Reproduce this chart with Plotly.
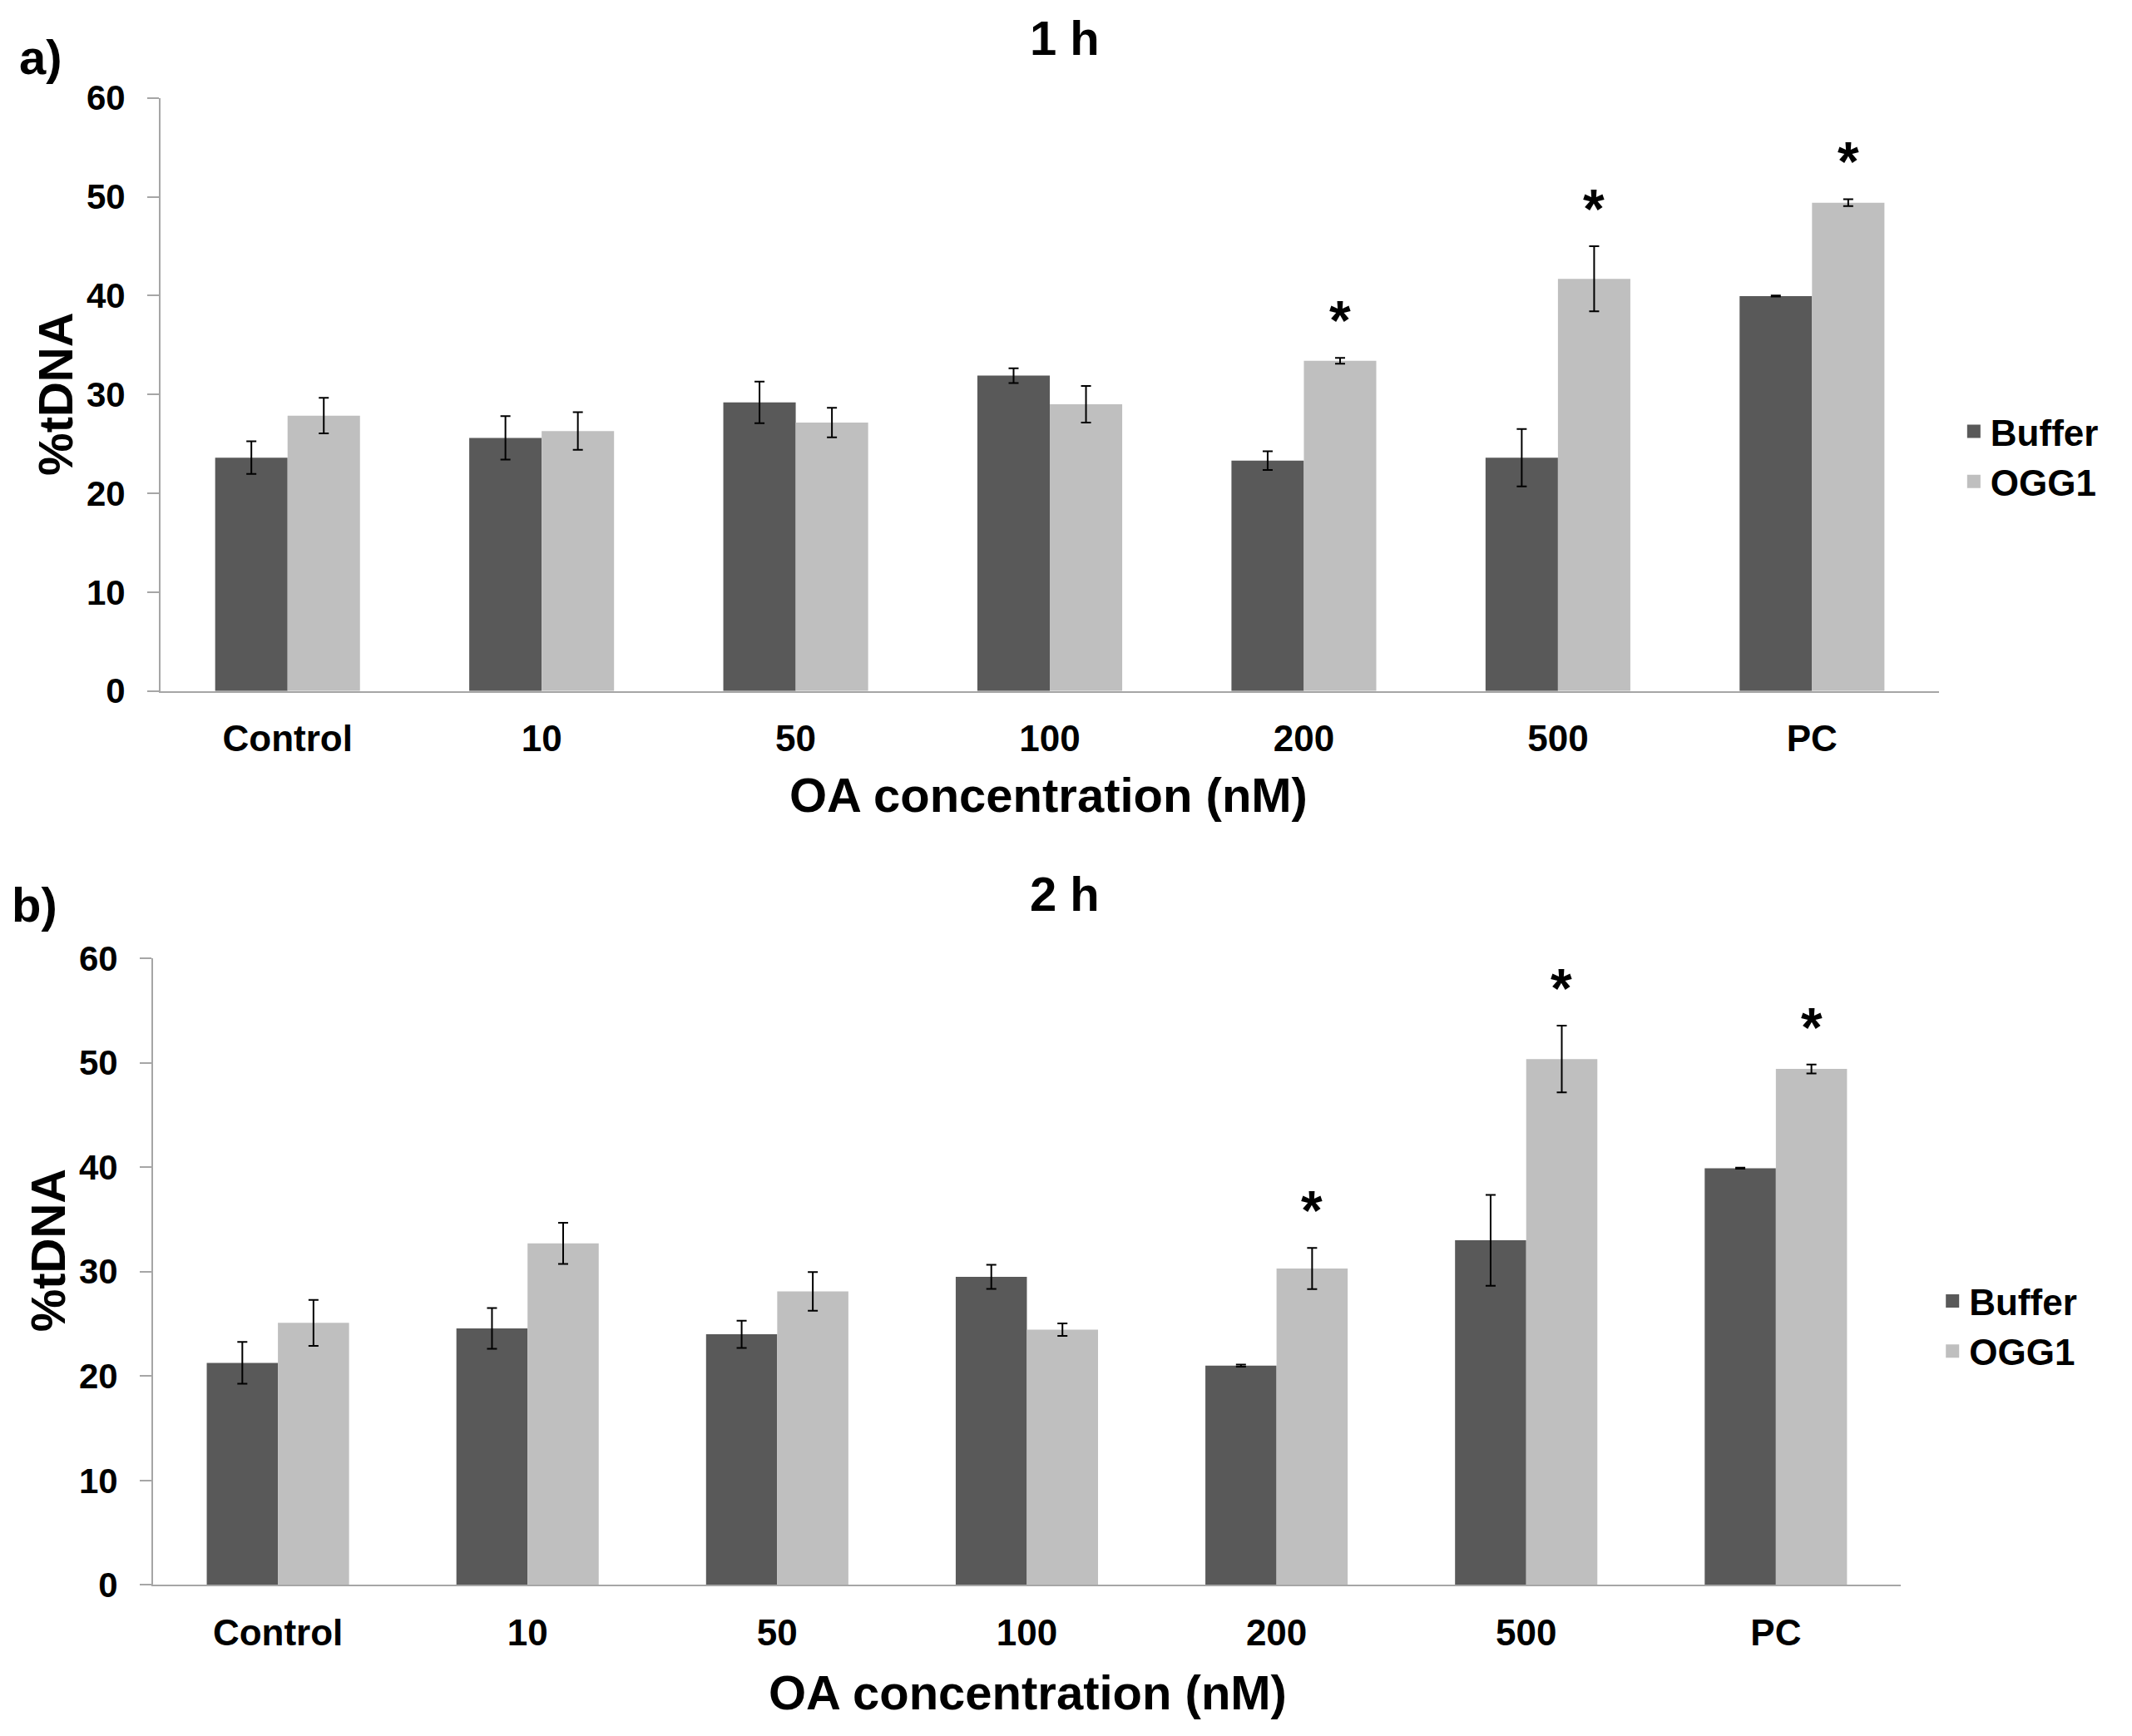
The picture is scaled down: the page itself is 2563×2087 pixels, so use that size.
import plotly.graph_objects as go

categories = ["Control", "10", "50", "100", "200", "500", "PC"]

# panel a) 1 h
buffer_1h = [23.6, 25.6, 29.2, 31.9, 23.3, 23.6, 39.95]
buffer_1h_err = [1.65, 2.2, 2.1, 0.75, 0.95, 2.9, 0.05]
ogg1_1h = [27.85, 26.3, 27.15, 29.0, 33.4, 41.7, 49.4]
ogg1_1h_err = [1.8, 1.9, 1.5, 1.85, 0.3, 3.3, 0.35]
stars_1h = ["", "", "", "", "*", "*", "*"]

# panel b) 2 h
buffer_2h = [21.26, 24.56, 24.0, 29.5, 21.0, 33.0, 39.9]
buffer_2h_err = [2.0, 1.95, 1.3, 1.15, 0.1, 4.35, 0.05]
ogg1_2h = [25.1, 32.7, 28.1, 24.45, 30.3, 50.35, 49.4]
ogg1_2h_err = [2.2, 1.97, 1.85, 0.6, 1.97, 3.2, 0.43]
stars_2h = ["", "", "", "", "*", "*", "*"]

DARK = "#595959"
LIGHT = "#BFBFBF"
FONT = "Liberation Sans, Arial, sans-serif"

W, H = 2563, 2087
# the page body adds an 8px margin, compensate for it
OX, OY = 8 / W, 8 / H


def px(a):
    return a - OX


def py(a):
    return a + OY


XDOM_A = [0.0753, 0.9095]
XDOM_B = [0.0718, 0.8915]

fig = go.Figure()


def add_panel(buf, buf_err, ogg, ogg_err, xa, ya, legend):
    for name, vals, errs, col in [("Buffer", buf, buf_err, DARK), ("OGG1", ogg, ogg_err, LIGHT)]:
        fig.add_trace(go.Bar(
            x=categories, y=vals, name=name, marker_color=col, marker_line_width=0,
            error_y=dict(type="data", array=errs, color="black", thickness=2, width=6),
            xaxis=xa, yaxis=ya, showlegend=False,
        ))
    # legend entries with square swatches
    for name, col in [("Buffer", DARK), ("OGG1", LIGHT)]:
        fig.add_trace(go.Scatter(
            x=[None], y=[None], mode="markers", name=name,
            marker=dict(symbol="square", size=16, color=col),
            xaxis=xa, yaxis=ya, legend=legend,
        ))


add_panel(buffer_1h, buffer_1h_err, ogg1_1h, ogg1_1h_err, "x", "y", "legend")
add_panel(buffer_2h, buffer_2h_err, ogg1_2h, ogg1_2h_err, "x2", "y2", "legend2")

axis_x = dict(
    type="category", range=[-0.5, 6.5], automargin=False,
    showline=True, linecolor="#A6A6A6", linewidth=2,
    ticks="", showgrid=False, zeroline=False,
    tickfont=dict(family=FONT, size=44, color="black", weight="bold"),
    ticklabelstandoff=18,
)
axis_y = dict(
    range=[0, 60], dtick=10, automargin=False,
    showline=True, linecolor="#A6A6A6", linewidth=2,
    ticks="outside", ticklen=14, tickcolor="#A6A6A6", tickwidth=2,
    showgrid=False, zeroline=False,
    tickfont=dict(family=FONT, size=42, color="black", weight="bold"),
    ticklabelstandoff=18,
)

leg_font = dict(family=FONT, size=44, color="black", weight="bold")
fig.update_layout(
    width=W, height=H,
    margin=dict(l=0, r=0, t=0, b=0),
    paper_bgcolor="white", plot_bgcolor="white",
    barmode="group", bargap=0.43, bargroupgap=0,
    xaxis=dict(domain=[px(XDOM_A[0]), px(XDOM_A[1])], anchor="y", **axis_x),
    yaxis=dict(domain=[py(0.602), py(0.9436)], anchor="x", **axis_y),
    xaxis2=dict(domain=[px(XDOM_B[0]), px(XDOM_B[1])], anchor="y2", **axis_x),
    yaxis2=dict(domain=[py(0.087), py(0.448)], anchor="x2", **axis_y),
    legend=dict(x=px(0.918), y=py(0.737), xanchor="left", yanchor="middle",
                font=leg_font, tracegroupgap=0, itemwidth=30),
    legend2=dict(x=px(0.908), y=py(0.236), xanchor="left", yanchor="middle",
                 font=leg_font, tracegroupgap=0, itemwidth=30),
    showlegend=True,
)

bold = dict(family=FONT, color="black", weight="bold")
texts = [
    ("a)", 0.019, 0.967, 58, 0),
    ("b)", 0.016, 0.479, 58, 0),
    ("1 h", 0.4994, 0.978, 58, 0),
    ("2 h", 0.4994, 0.485, 58, 0),
    ("OA concentration (nM)", 0.492, 0.542, 58, 0),
    ("OA concentration (nM)", 0.482, 0.025, 58, 0),
    ("%tDNA", 0.0262, 0.773, 58, -90),
    ("%tDNA", 0.0225, 0.280, 58, -90),
]
for t, x, y, s, ang in texts:
    fig.add_annotation(text=t, x=px(x), y=py(y), xref="paper", yref="paper",
                       xanchor="center", yanchor="middle",
                       showarrow=False, textangle=ang,
                       font=dict(size=s, **bold))

# significance stars above the OGG1 bars
for xa, ya, dom, ogg, err, stars in [("x", "y", XDOM_A, ogg1_1h, ogg1_1h_err, stars_1h),
                                     ("x2", "y2", XDOM_B, ogg1_2h, ogg1_2h_err, stars_2h)]:
    shift = 0.1425 * (W * (dom[1] - dom[0]) / 7)
    for i, (v, e, s) in enumerate(zip(ogg, err, stars)):
        if s:
            fig.add_annotation(text=s, x=i, y=v + e, xref=xa, yref=ya,
                               xshift=shift, yshift=6, yanchor="bottom",
                               showarrow=False, font=dict(size=66, **bold))

fig.write_html("out.html")
